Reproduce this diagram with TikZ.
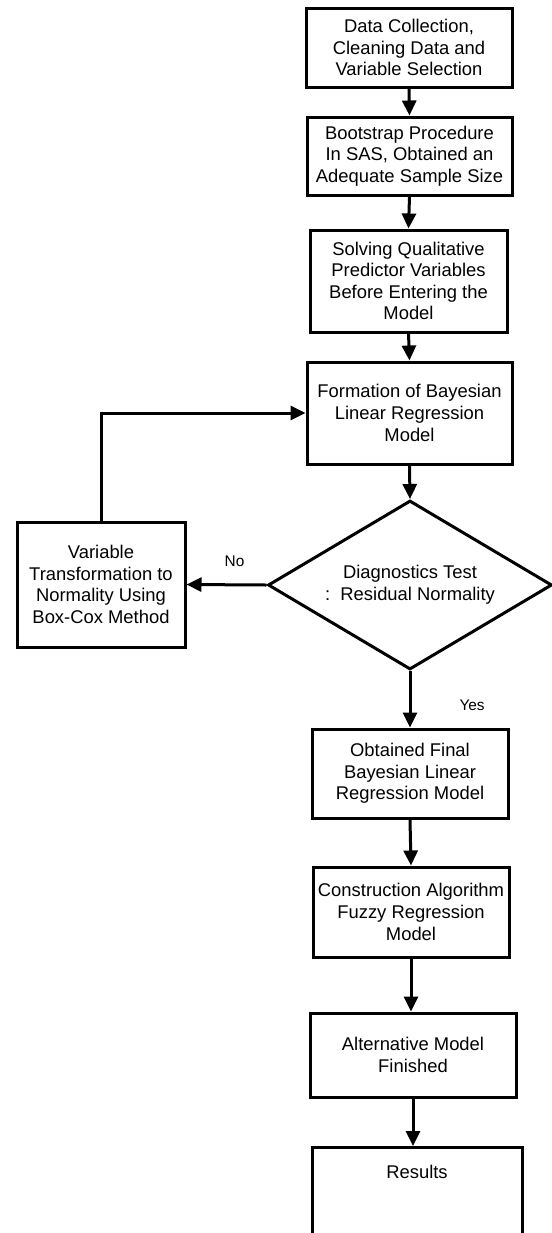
\documentclass[tikz,border=0pt]{standalone}
\usepackage{fontspec}
\setmainfont{Liberation Sans}
\usetikzlibrary{shapes.geometric,arrows.meta}

\begin{document}
\begin{tikzpicture}[x=0.5pt,y=-0.5pt,
    bloco/.style={draw, line width=1.5pt, align=center, inner sep=0pt,
      font=\fontsize{9.2}{10.8}\selectfont},
    losango/.style={bloco, diamond, aspect=1.68},
    seta/.style={line width=1.5pt, -{Triangle[length=7.5pt,width=7pt]}},
    rotulo/.style={inner sep=0pt, font=\fontsize{7.7}{9}\selectfont}]
    % Area da figura
    \useasboundingbox (0,0) rectangle (552,1233);
    \clip (0,0) rectangle (552,1233);
    % Blocos da coluna principal
    \node[bloco, minimum width=103pt, minimum height=39.5pt] (coleta) at (409,47.5)
      {Data Collection,\\ Cleaning Data and\\ Variable Selection};
    \node[bloco, minimum width=102.5pt, minimum height=39pt] (bootstrap) at (409.5,156)
      {Bootstrap Procedure\\ In SAS, Obtained an\\ Adequate Sample Size};
    \node[bloco, minimum width=98.5pt, minimum height=51pt] (qualit) at (408.5,281)
      {Solving Qualitative\\ Predictor Variables\\ Before Entering the\\ Model};
    \node[bloco, minimum width=102.5pt, minimum height=51pt] (formacao) at (409.5,413)
      {Formation of Bayesian\\ Linear Regression\\ Model};
    \node[losango, minimum width=142pt, minimum height=84.5pt] (teste) at (410,585)
      {Diagnostics Test\\ :\ \ Residual Normality};
    \node[bloco, minimum width=98pt, minimum height=44.5pt] (final) at (410,773.5)
      {Obtained Final\\ Bayesian Linear\\ Regression Model};
    \node[bloco, minimum width=98pt, minimum height=45pt] (fuzzy) at (411,912)
      {Construction Algorithm\\ Fuzzy Regression\\ Model};
    \node[bloco, minimum width=103pt, minimum height=42pt] (alternativo) at (413,1055)
      {Alternative Model\\ Finished};
    \node[bloco, anchor=north, minimum width=105pt, minimum height=60pt, text depth=36pt]
      (resultados) at (417,1146) {Results};
    % Bloco da transformacao
    \node[bloco, minimum width=84pt, minimum height=62.5pt] (transf) at (101,584.5)
      {Variable\\ Transformation to\\ Normality Using\\ Box-Cox Method};
    % Setas
    \draw[seta] (coleta.south) -- (bootstrap.north);
    \draw[seta] (bootstrap.south) -- (qualit.north);
    \draw[seta] (qualit.south) -- (formacao.north);
    \draw[seta] (formacao.south) -- (teste.north);
    \draw[seta] (teste.south) -- node[rotulo, right=24pt, pos=0.6] {Yes} (final.north);
    \draw[seta] (final.south) -- (fuzzy.north);
    \draw[seta] (fuzzy.south) -- (fuzzy.south |- alternativo.north);
    \draw[seta] (alternativo.south) -- (alternativo.south |- resultados.north);
    \draw[seta] (teste.west) -- node[rotulo, above=8.5pt, pos=0.4] {No} (transf.east);
    \draw[seta] (transf.north) |- (formacao.west);
\end{tikzpicture}
\end{document}
